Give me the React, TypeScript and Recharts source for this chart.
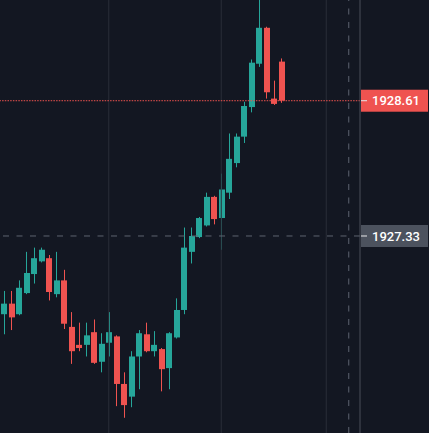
import { ComposedChart, Bar, XAxis, YAxis, ReferenceLine } from "recharts";

// candles, oldest first
const opens = [
  1926.59, 1926.69, 1926.59, 1926.79, 1926.97, 1927.09, 1927.12, 1926.78, 1926.91, 1926.47,
  1926.3, 1926.3, 1926.42, 1926.14, 1926.32, 1926.38, 1925.93, 1925.81, 1926.19, 1926.4,
  1926.24, 1926.26, 1926.08, 1926.37, 1926.63, 1927.18, 1927.32, 1927.43, 1927.7, 1927.5,
  1927.74, 1928.02, 1928.27, 1928.55, 1928.96, 1929.3, 1928.63, 1928.98,
];
const highs = [
  1926.81, 1926.81, 1926.91, 1927.18, 1927.22, 1927.22, 1927.15, 1927.18, 1927.01, 1926.61,
  1926.51, 1926.51, 1926.54, 1926.41, 1926.61, 1926.39, 1926.04, 1926.24, 1926.44, 1926.51,
  1926.43, 1926.27, 1926.42, 1926.74, 1927.41, 1927.41, 1927.51, 1927.74, 1927.71, 1927.92,
  1928.3, 1928.3, 1928.6, 1929.0, 1929.65, 1929.31, 1928.8, 1929.01,
];
const lows = [
  1926.4, 1926.44, 1926.58, 1926.78, 1926.88, 1927.08, 1926.72, 1926.75, 1926.45, 1926.12,
  1926.24, 1926.19, 1926.12, 1926.04, 1926.19, 1925.72, 1925.61, 1925.71, 1925.88, 1926.23,
  1926.19, 1925.86, 1925.88, 1926.36, 1926.59, 1927.07, 1927.31, 1927.42, 1927.44, 1927.2,
  1927.68, 1927.98, 1928.21, 1928.5, 1928.93, 1928.63, 1928.57, 1928.59,
];
const closes = [
  1926.69, 1926.56, 1926.84, 1926.98, 1927.12, 1927.2, 1926.8, 1926.91, 1926.5, 1926.24,
  1926.27, 1926.39, 1926.13, 1926.31, 1926.42, 1925.93, 1925.73, 1926.19, 1926.41, 1926.24,
  1926.3, 1926.07, 1926.41, 1926.63, 1927.22, 1927.33, 1927.5, 1927.7, 1927.49, 1927.77,
  1928.06, 1928.27, 1928.56, 1928.97, 1929.3, 1928.69, 1928.58, 1928.61,
];

const EMPTY_SLOTS = 10; // space to the right of the last bar
const GRID_SLOTS = [14, 29, 43];
const CROSS_SLOT = 46;
const CROSS_PRICE = 1927.33;
const PRICE_MIN = 1925.466;
const PRICE_MAX = 1929.563;

const UP = "#26a69a";
const DOWN = "#ef5350";
const BG = "#131722";

const data = [
  ...opens.map((o, i) => ({ i, o, h: highs[i], l: lows[i], c: closes[i] })),
  ...Array.from({ length: EMPTY_SLOTS }, (_, k) => ({ i: opens.length + k })),
];
const lastClose = closes[closes.length - 1];

function Candle(props: any) {
  const { x, y, width, height, payload } = props;
  if (payload.h == null) return null;
  const top = Math.min(y, y + height);
  const span = Math.abs(height);
  const py = (v: number) => top + ((payload.h - v) / (payload.h - payload.l)) * span;
  const color = payload.c >= payload.o ? UP : DOWN;
  const bodyTop = py(Math.max(payload.o, payload.c));
  const bodyBottom = py(Math.min(payload.o, payload.c));
  const cx = Math.round(x + width / 2 - 0.5) + 0.5;
  return (
    <g>
      <line x1={cx} x2={cx} y1={top} y2={top + span} stroke={color} strokeWidth={1} />
      <rect
        x={Math.round(x)}
        y={bodyTop}
        width={Math.round(width)}
        height={Math.max(1, bodyBottom - bodyTop)}
        fill={color}
      />
    </g>
  );
}

function PriceTag({ viewBox, text, bg }: any) {
  if (!viewBox) return null;
  const x = viewBox.x + viewBox.width + 1;
  const y = viewBox.y;
  return (
    <g>
      <rect x={x} y={y - 11} width={67} height={22} fill={bg} />
      <line x1={x} x2={x + 6} y1={y} y2={y} stroke="#e6e7ea" strokeWidth={1} />
      <text
        x={x + 11}
        y={y}
        dy="0.36em"
        fill="#ffffff"
        fontSize={13}
        fontWeight={500}
        fontFamily="Roboto, sans-serif"
      >
        {text}
      </text>
    </g>
  );
}

export default function App() {
  return (
    <div style={{ width: 429, height: 433, background: BG }}>
      <style>{`body{margin:0;background:${BG};}`}</style>
      <ComposedChart
        width={429}
        height={433}
        data={data}
        margin={{ top: 0, right: 0, bottom: 0, left: 0 }}
      >
        <XAxis dataKey="i" type="category" hide padding={{ left: 0, right: 0 }} />
        <YAxis
          orientation="right"
          width={69}
          domain={[PRICE_MIN, PRICE_MAX]}
          allowDataOverflow
          tick={false}
          tickLine={false}
          axisLine={{ stroke: "#4a4e59" }}
        />
        {GRID_SLOTS.map((s) => (
          <ReferenceLine key={s} x={s} stroke="#2a2e39" strokeWidth={1} />
        ))}
        <Bar
          dataKey={(d: any) => (d.h == null ? null : [d.l, d.h])}
          barSize={6}
          shape={Candle}
          isAnimationActive={false}
        />
        <ReferenceLine
          y={lastClose}
          stroke={DOWN}
          strokeDasharray="1.5 1.2"
          label={(p: any) => <PriceTag {...p} text={lastClose.toFixed(2)} bg={DOWN} />}
        />
        <ReferenceLine x={CROSS_SLOT} stroke="#5e6370" strokeDasharray="6 7.5" />
        <ReferenceLine
          y={CROSS_PRICE}
          stroke="#5e6370"
          strokeDasharray="6 7.5"
          label={(p: any) => <PriceTag {...p} text={CROSS_PRICE.toFixed(2)} bg="#4c525e" />}
        />
      </ComposedChart>
    </div>
  );
}
